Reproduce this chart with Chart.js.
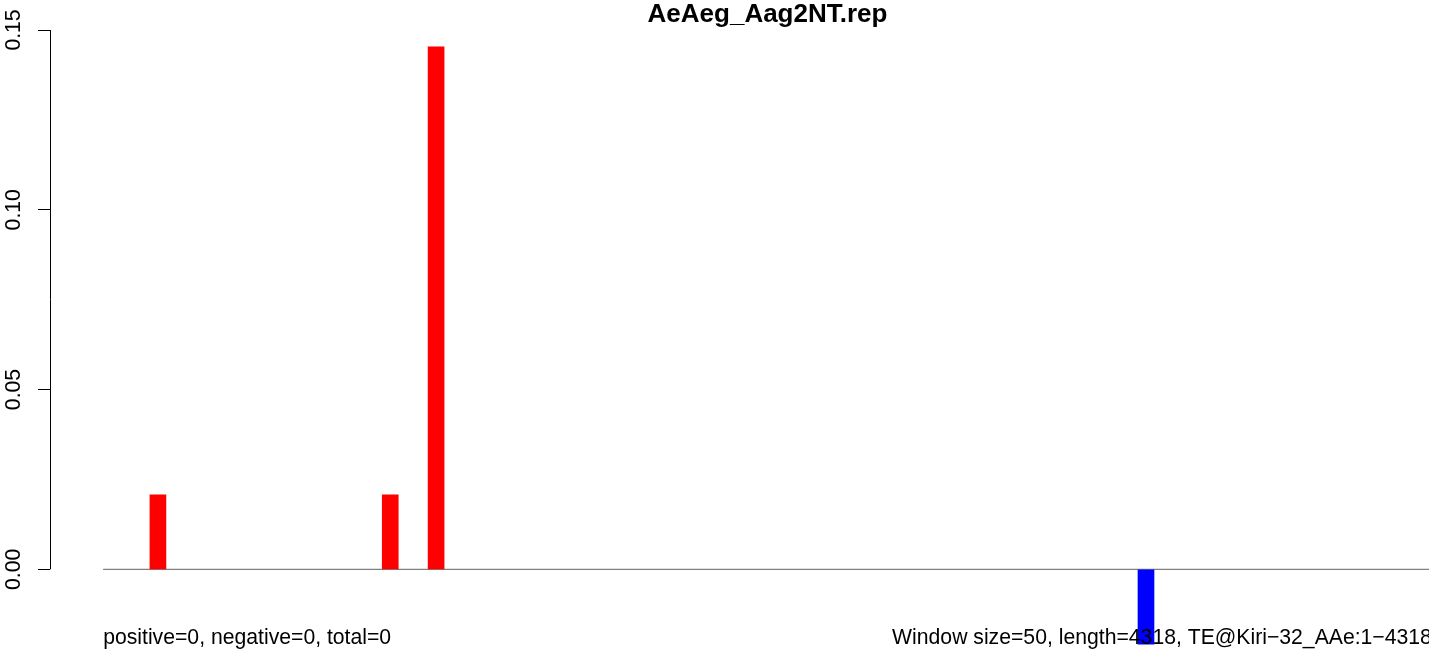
<!DOCTYPE html>
<html>
<head>
<meta charset="utf-8">
<script src="https://cdn.jsdelivr.net/npm/chart.js@4"></script>
<style>
  html, body { margin: 0; padding: 0; background: #ffffff; }
  #wrap { width: 1429px; height: 653px; position: relative; }
  canvas { display: block; }
</style>
</head>
<body>
<div id="wrap"><canvas id="c" width="1429" height="653"></canvas></div>
<script>
// ---- data ----
const chartTitle = "AeAeg_Aag2NT.rep";
const seqLength = 4318;
const windowSize = 50;
const positions = [178, 933, 1082, 3389];          // bp position of each bar
const ratios = [0.0207, 0.0207, 0.1453, -0.0208];   // bar values
const yTicks = [0, 0.05, 0.10, 0.15];
const leftNote = "positive=0, negative=0, total=0";
const rightNote = "Window size=" + windowSize + ", length=" + seqLength + ", TE@Kiri\u221232_AAe:1\u2212" + seqLength;

// R-like x range (4% extension on each side)
const xExt = 0.04 * seqLength;
const xRegionMin = -xExt;
const xRegionMax = seqLength + xExt;
const FONT = "'Liberation Sans', Arial, Helvetica, sans-serif";

const barData = positions.map((p, i) => ({ x: p, y: ratios[i] }));
const zeroLine = [{ x: 0, y: 0 }, { x: seqLength, y: 0 }];

const decor = {
  id: 'decor',
  afterDraw(chart) {
    const ctx = chart.ctx;
    const xs = chart.scales.x, ys = chart.scales.y;
    const ca = chart.chartArea;
    ctx.save();
    // y axis line between first and last tick
    ctx.strokeStyle = '#000';
    ctx.lineWidth = 1;
    ctx.beginPath();
    const ax = Math.round(ca.left) + 0.5;
    ctx.moveTo(ax, ys.getPixelForValue(yTicks[yTicks.length - 1]));
    ctx.lineTo(ax, ys.getPixelForValue(yTicks[0]));
    ctx.stroke();
    // title
    const regionCenter = (xs.getPixelForValue(xRegionMin) + xs.getPixelForValue(xRegionMax)) / 2;
    ctx.fillStyle = '#000';
    ctx.font = 'bold 26px ' + FONT;
    ctx.textAlign = 'center';
    ctx.textBaseline = 'alphabetic';
    ctx.fillText(chartTitle, regionCenter, 22);
    // bottom notes
    ctx.font = '21.2px ' + FONT;
    ctx.textAlign = 'left';
    ctx.fillText(leftNote, xs.getPixelForValue(0), 644);
    ctx.textAlign = 'right';
    ctx.fillText(rightNote, xs.getPixelForValue(seqLength), 644);
    ctx.restore();
  }
};

new Chart(document.getElementById('c'), {
  data: {
    datasets: [
      {
        type: 'bar',
        data: barData,
        backgroundColor: ctx => (ctx.raw && ctx.raw.y < 0) ? '#0000ff' : '#ff0000',
        borderWidth: 0,
        barThickness: 16,
        order: 1
      },
      {
        type: 'line',
        data: zeroLine,
        borderColor: '#808080',
        borderWidth: 1.2,
        pointRadius: 0,
        fill: false,
        order: 2
      }
    ]
  },
  options: {
    responsive: false,
    devicePixelRatio: 1,
    animation: false,
    events: [],
    layout: { padding: { top: 30, bottom: 6.4, left: 0, right: 0 } },
    plugins: {
      legend: { display: false },
      title: { display: false },
      tooltip: { enabled: false }
    },
    scales: {
      x: {
        type: 'linear',
        display: false,
        offset: false,
        bounds: 'data',
        min: xRegionMin,
        max: xRegionMin + (xRegionMax - xRegionMin) * (1379 / 1435)
      },
      y: {
        type: 'linear',
        position: 'left',
        min: -0.0215,
        max: 0.15,
        afterBuildTicks: s => { s.ticks = yTicks.map(v => ({ value: v })); },
        afterFit: s => { s.width = 50; s.paddingTop = 0; s.paddingBottom = 0; },
        border: { display: false },
        grid: {
          drawOnChartArea: false,
          drawTicks: true,
          tickLength: 12,
          color: '#000',
          lineWidth: 1
        },
        ticks: {
          minRotation: 90,
          maxRotation: 90,
          crossAlign: 'center',
          padding: 3,
          color: '#000',
          font: { family: FONT, size: 21.2 },
          callback: v => Number(v).toFixed(2)
        }
      }
    }
  },
  plugins: [decor]
});
</script>
</body>
</html>
